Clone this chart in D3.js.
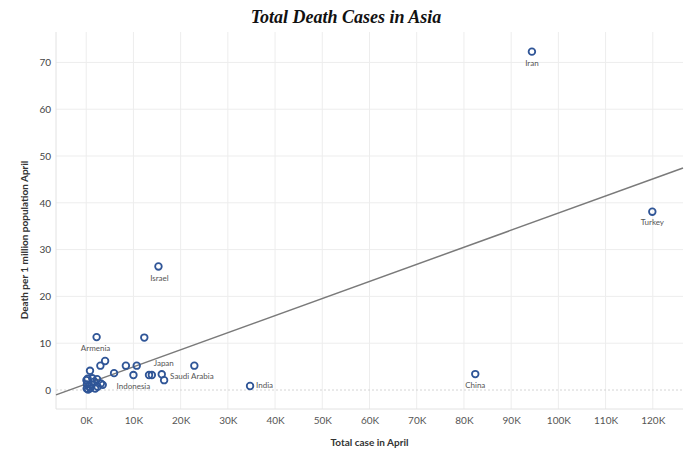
<!DOCTYPE html>
<html>
<head>
<meta charset="utf-8">
<script src="https://cdn.jsdelivr.net/npm/d3@7"></script>
<style>
  html, body { margin: 0; padding: 0; background: #fff; }
  svg { display: block; }
</style>
</head>
<body>
<svg id="chart" width="692" height="455"></svg>
<script>
// ---- data ----
const countries = ["Iran","Turkey","Israel","China","India","Armenia","Indonesia","Japan","Saudi Arabia",
  "United Arab Emirates","Lebanon","Bahrain","Kuwait","Malaysia","Philippines","Belarus","Qatar","Singapore","Pakistan",
  "Cyprus","Oman","Kazakhstan","Azerbaijan","Afghanistan","Bangladesh","Uzbekistan","Iraq","Georgia","Jordan",
  "Sri Lanka","Thailand","Kyrgyzstan","South Korea","Nepal"];
const totalCasesK = [94.4, 119.9, 15.3, 82.4, 34.7, 2.2, 10.0, 16.0, 16.5,
  12.3, 0.8, 3.0, 4.0, 5.9, 8.4, 10.7, 13.3, 13.9, 22.9,
  0.05, 0.3, 1.3, 2.3, 0.15, 1.1, 0.85, 2.4, 3.1, 0.1,
  1.7, 3.5, 0.4, 1.9, 0.6];
const deathsPerMillion = [72.3, 38.1, 26.4, 3.4, 0.85, 11.3, 3.2, 3.35, 2.1,
  11.2, 4.1, 5.2, 6.2, 3.6, 5.2, 5.2, 3.2, 3.2, 5.2,
  2.1, 2.4, 2.5, 2.3, 1.2, 1.2, 0.35, 0.7, 1.4, 0.3,
  1.8, 1.1, 0.1, 0.3, 0.8];
const labelled = ["Iran","Turkey","Israel","China","India","Armenia","Indonesia","Japan","Saudi Arabia"];
const xTicks = [0,10,20,30,40,50,60,70,80,90,100,110,120];
const yTicks = [0,10,20,30,40,50,60,70];
const trendIntercept = 1.3;
const trendSlope = 0.365;
const xDomain = [-6.4, 126.4];
const yDomain = [-4.06, 76.5];

// ---- style / placement ----
const labelPlacement = {
  "Iran": {anchor:"middle", dx:0, dy:12.5},
  "Turkey": {anchor:"middle", dx:0, dy:11.5},
  "Israel": {anchor:"middle", dx:1, dy:12.5},
  "China": {anchor:"middle", dx:0, dy:11.5},
  "Armenia": {anchor:"middle", dx:-1, dy:12},
  "Indonesia": {anchor:"middle", dx:0, dy:12},
  "India": {anchor:"start", dx:6, dy:0},
  "Saudi Arabia": {anchor:"start", dx:6, dy:-3},
  "Japan": {anchor:"middle", dx:2, dy:-10.5}
};

const svg = d3.select("#chart");
const plot = {left:56, right:683, top:32, bottom:409};

const x = d3.scaleLinear().domain(xDomain).range([plot.left, plot.right]);
const y = d3.scaleLinear().domain(yDomain).range([plot.bottom, plot.top]);

// gridlines
svg.append("g").selectAll("line").data(xTicks).join("line")
  .attr("x1", d => x(d)).attr("x2", d => x(d))
  .attr("y1", plot.top).attr("y2", plot.bottom)
  .attr("stroke", "#ededed").attr("stroke-width", 1);
svg.append("g").selectAll("line").data(yTicks.filter(d => d !== 0)).join("line")
  .attr("x1", plot.left).attr("x2", plot.right)
  .attr("y1", d => y(d)).attr("y2", d => y(d))
  .attr("stroke", "#ededed").attr("stroke-width", 1);
// zero line (dotted)
svg.append("line")
  .attr("x1", plot.left).attr("x2", plot.right)
  .attr("y1", y(0)).attr("y2", y(0))
  .attr("stroke", "#d4d4d4").attr("stroke-width", 1).attr("stroke-dasharray", "2,2");
// plot borders
svg.append("line").attr("x1", plot.left).attr("x2", plot.left)
  .attr("y1", plot.top).attr("y2", plot.bottom).attr("stroke", "#e2e2e2");
svg.append("line").attr("x1", plot.left).attr("x2", plot.right)
  .attr("y1", plot.bottom).attr("y2", plot.bottom).attr("stroke", "#e2e2e2");

// axes
const xAxis = d3.axisBottom(x).tickValues(xTicks).tickFormat(d => d + "K").tickSize(0).tickPadding(8);
const gx = svg.append("g").attr("transform", `translate(0,${plot.bottom})`).call(xAxis);
gx.select(".domain").remove();
gx.selectAll("text").attr("font-family", "Lato, 'Open Sans', sans-serif").attr("font-size", 10).attr("fill", "#555");

const yAxis = d3.axisLeft(y).tickValues(yTicks).tickSize(0).tickPadding(5);
const gy = svg.append("g").attr("transform", `translate(${plot.left},0)`).call(yAxis);
gy.select(".domain").remove();
gy.selectAll("text").attr("font-family", "Lato, 'Open Sans', sans-serif").attr("font-size", 10).attr("fill", "#444");

// trend line
const trend = xDomain.map(v => [v, trendIntercept + trendSlope * v]);
svg.append("path")
  .attr("d", d3.line().x(d => x(d[0])).y(d => y(d[1]))(trend))
  .attr("stroke", "#7a7a7a").attr("stroke-width", 1.5).attr("fill", "none");

// points
const pts = countries.map((c, i) => ({name: c, cases: totalCasesK[i], deaths: deathsPerMillion[i]}));
svg.append("g").selectAll("circle").data(pts).join("circle")
  .attr("cx", d => x(d.cases)).attr("cy", d => y(d.deaths))
  .attr("r", 3.3)
  .attr("fill", "none")
  .attr("stroke", "#2f5597")
  .attr("stroke-width", 1.8);

// labels
svg.append("g").selectAll("text").data(pts.filter(d => labelled.includes(d.name))).join("text")
  .attr("x", d => x(d.cases) + labelPlacement[d.name].dx)
  .attr("y", d => y(d.deaths) + labelPlacement[d.name].dy)
  .attr("text-anchor", d => labelPlacement[d.name].anchor)
  .attr("dominant-baseline", "middle")
  .attr("font-family", "Lato, 'Open Sans', sans-serif")
  .attr("font-size", 8)
  .attr("fill", "#555")
  .text(d => d.name);

// titles
svg.append("text")
  .attr("x", 346).attr("y", 23)
  .attr("text-anchor", "middle")
  .attr("font-family", "'Liberation Serif', 'Times New Roman', serif")
  .attr("font-weight", "bold").attr("font-style", "italic")
  .attr("font-size", 18).attr("fill", "#111")
  .text("Total Death Cases in Asia");

svg.append("text")
  .attr("x", (plot.left + plot.right) / 2).attr("y", 446)
  .attr("text-anchor", "middle")
  .attr("font-family", "Lato, 'Open Sans', sans-serif")
  .attr("font-weight", "bold").attr("font-size", 10).attr("fill", "#333")
  .text("Total case in April");

svg.append("text")
  .attr("transform", "translate(25,240) rotate(-90)")
  .attr("text-anchor", "middle")
  .attr("dominant-baseline", "middle")
  .attr("font-family", "Lato, 'Open Sans', sans-serif")
  .attr("font-weight", "bold").attr("font-size", 10).attr("fill", "#333")
  .text("Death per 1 million population April");
</script>
</body>
</html>
